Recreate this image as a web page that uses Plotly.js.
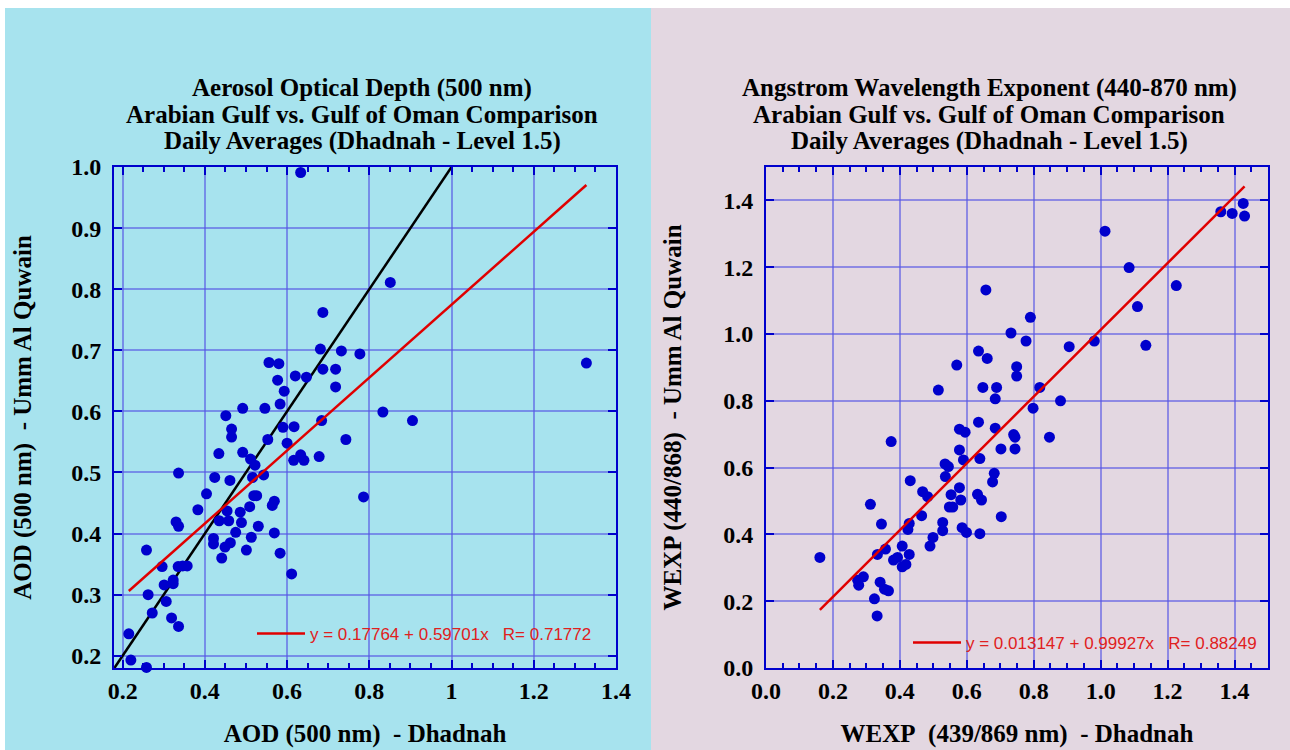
<!DOCTYPE html>
<html>
<head>
<meta charset="utf-8">
<script src="https://cdn.plot.ly/plotly-3.0.1.min.js"></script>
<style>html,body{margin:0;padding:0;background:#fff;}#chart{width:1290px;height:750px;}</style>
</head>
<body>
<div id="chart"></div>
<script>
// ---- Left panel: AOD (500 nm), Dhadnah (x) vs Umm Al Quwain (y)
const aodDhadnah = [
 0.681,0.732,0.777,0.556,0.580,0.687,0.718,0.620,0.647,0.577,
 0.718,0.593,0.583,0.492,0.546,0.833,0.451,0.684,0.590,0.617,
 0.465,0.465,0.553,0.743,0.600,0.434,0.492,0.633,0.678,0.616,
 0.641,0.511,0.522,0.336,0.424,0.516,0.543,0.461,0.404,0.519,
 0.526,0.786,0.569,0.564,0.509,0.383,0.454,0.486,0.435,0.458,
 0.489,0.330,0.336,0.530,0.475,0.569,0.421,0.513,0.421,0.462,
 0.449,0.501,0.258,0.583,0.441,0.296,0.335,0.346,0.357,0.611,
 0.301,0.323,0.323,0.262,0.306,0.272,0.319,0.336,0.215,0.220,
 0.258,0.633,0.687,0.851,1.328,0.905];
const aodUmmAlQuwain = [
 0.702,0.699,0.694,0.680,0.678,0.669,0.669,0.658,0.656,0.651,
 0.640,0.633,0.612,0.605,0.605,0.599,0.593,0.585,0.574,0.575,
 0.571,0.558,0.554,0.554,0.548,0.531,0.533,0.529,0.526,0.520,
 0.520,0.522,0.512,0.499,0.492,0.492,0.496,0.487,0.465,0.462,
 0.462,0.460,0.453,0.446,0.444,0.439,0.437,0.435,0.421,0.421,
 0.418,0.419,0.412,0.412,0.402,0.401,0.392,0.394,0.383,0.385,
 0.378,0.373,0.373,0.368,0.360,0.346,0.346,0.347,0.347,0.334,
 0.316,0.324,0.318,0.300,0.289,0.270,0.262,0.248,0.236,0.193,
 0.181,0.991,0.762,0.811,0.679,0.585];
const aodFitIntercept = 0.17764;
const aodFitSlope = 0.59701;
const aodFitLabel = "y = 0.17764 + 0.59701x\u00a0\u00a0\u00a0R= 0.71772";
const aodOneToOne = [0.18, 1.0];
const aodXTicks = [0.2, 0.4, 0.6, 0.8, 1.0, 1.2, 1.4];
const aodXTickText = ["0.2", "0.4", "0.6", "0.8", "1", "1.2", "1.4"];
const aodYTicks = [0.2, 0.3, 0.4, 0.5, 0.6, 0.7, 0.8, 0.9, 1.0];
const aodYTickText = ["0.2", "0.3", "0.4", "0.5", "0.6", "0.7", "0.8", "0.9", "1.0"];

// ---- Right panel: Angstrom exponent
const wexpDhadnah = [
 0.657,0.732,0.635,0.661,0.570,0.749,0.749,0.515,0.648,0.689,0.685,
 0.635,0.578,0.595,0.685,0.740,0.744,0.374,0.702,0.744,0.578,
 0.590,0.639,0.535,0.545,0.536,0.682,0.677,0.431,0.578,0.468,
 0.483,0.553,0.582,0.632,0.644,0.312,0.548,0.558,0.465,0.703,
 0.345,0.428,0.424,0.528,0.528,0.586,0.599,0.639,0.499,0.490,
 0.407,0.161,0.333,0.357,0.428,0.381,0.393,0.407,0.418,0.291,
 0.274,0.277,0.341,0.354,0.366,0.324,0.332,
 1.426,1.359,1.393,1.430,1.013,1.085,1.226,1.110,0.790,0.777,
 0.981,1.135,0.906,0.818,0.880,0.798,0.847];
const wexpUmmAlQuwain = [
 1.132,1.003,0.949,0.927,0.907,0.902,0.874,0.832,0.840,0.840,0.806,
 0.736,0.715,0.706,0.718,0.699,0.691,0.678,0.656,0.656,0.653,
 0.623,0.627,0.611,0.603,0.573,0.583,0.557,0.561,0.540,0.528,
 0.513,0.519,0.503,0.520,0.503,0.490,0.482,0.482,0.456,0.453,
 0.431,0.433,0.415,0.436,0.411,0.420,0.406,0.402,0.391,0.365,
 0.365,0.331,0.340,0.356,0.340,0.323,0.331,0.303,0.310,0.273,
 0.263,0.248,0.257,0.236,0.231,0.207,0.156,
 1.391,1.366,1.361,1.353,1.308,1.199,1.145,1.082,1.050,0.979,
 0.979,0.966,0.962,0.840,0.800,0.778,0.691];
const wexpFitIntercept = 0.013147;
const wexpFitSlope = 0.99927;
const wexpFitLabel = "y = 0.013147 + 0.99927x\u00a0\u00a0\u00a0R= 0.88249";
const wexpTicks = [0.0, 0.2, 0.4, 0.6, 0.8, 1.0, 1.2, 1.4];
const wexpTickText = ["0.0", "0.2", "0.4", "0.6", "0.8", "1.0", "1.2", "1.4"];

const titleLeft = ["Aerosol Optical Depth (500 nm)", "Arabian Gulf vs. Gulf of Oman Comparison", "Daily Averages (Dhadnah - Level 1.5)"];
const titleRight = ["Angstrom Wavelength Exponent (440-870 nm)", "Arabian Gulf vs. Gulf of Oman Comparison", "Daily Averages (Dhadnah - Level 1.5)"];

// ---- build
const W = 1290, H = 750;
const px = v => v / W;
const py = v => 1 - v / H;
const serif = "Liberation Serif, Times New Roman, serif";
const blue = "#0000cc";
const gridC = "rgba(85,85,228,0.6)";

function fitLine(xs, a, b) {
  const lo = Math.min(...xs), hi = Math.max(...xs);
  return {x: [lo, hi], y: [a + b * lo, a + b * hi]};
}
const aodFit = fitLine(aodDhadnah, aodFitIntercept, aodFitSlope);
const wexpFit = fitLine(wexpDhadnah, wexpFitIntercept, wexpFitSlope);

const traces = [
  {x: aodOneToOne, y: aodOneToOne, mode: "lines", line: {color: "#000", width: 2.5}, showlegend: false, xaxis: "x", yaxis: "y", hoverinfo: "skip"},
  {x: aodDhadnah, y: aodUmmAlQuwain, mode: "markers", marker: {color: blue, size: 11}, cliponaxis: false, showlegend: false, xaxis: "x", yaxis: "y"},
  {x: aodFit.x, y: aodFit.y, mode: "lines", line: {color: "#e00000", width: 2.5}, name: aodFitLabel, legend: "legend", xaxis: "x", yaxis: "y"},
  {x: wexpDhadnah, y: wexpUmmAlQuwain, mode: "markers", marker: {color: blue, size: 11}, cliponaxis: false, showlegend: false, xaxis: "x2", yaxis: "y2"},
  {x: wexpFit.x, y: wexpFit.y, mode: "lines", line: {color: "#e00000", width: 2.5}, name: wexpFitLabel, legend: "legend2", xaxis: "x2", yaxis: "y2"}
];

const tickFont = {family: serif, size: 24, color: "#000", weight: "bold"};
const axTitleFont = {family: serif, size: 25, color: "#000", weight: "bold"};
const yDom = [py(668), py(167)];

function xAxis(dom, range, vals, text, anchor, title) {
  return {domain: dom, range: range, anchor: anchor, tickmode: "array", tickvals: vals, ticktext: text,
    ticks: "inside", ticklen: 8, tickwidth: 2, tickcolor: blue, showline: true, linecolor: blue, linewidth: 2, mirror: "ticks",
    showgrid: true, gridcolor: gridC, gridwidth: 2, zeroline: false, tickfont: tickFont, ticklabelstandoff: 0,
    minor: {tickmode: "linear", tick0: 0, dtick: 0.05, ticks: "inside", ticklen: 5, tickwidth: 1.5, tickcolor: blue, showgrid: false},
    title: {text: title, font: axTitleFont, standoff: 22}, automargin: false, fixedrange: true};
}
function yAxis(dom, range, vals, text, anchor, title, standoff) {
  return {domain: dom, range: range, anchor: anchor, tickmode: "array", tickvals: vals, ticktext: text,
    ticks: "inside", ticklen: 8, tickwidth: 2, tickcolor: blue, showline: true, linecolor: blue, linewidth: 2, mirror: "ticks",
    showgrid: true, gridcolor: gridC, gridwidth: 2, zeroline: false, tickfont: tickFont, ticklabelstandoff: 6,
    title: {text: title, font: axTitleFont, standoff: standoff}, automargin: false, fixedrange: true};
}

const annotations = [];
const lineYs = [88, 115, 141];
const titleFont = {family: serif, size: 25, color: "#000", weight: "bold"};
titleLeft.forEach((t, i) => annotations.push({text: t, xref: "paper", yref: "paper", x: px(362), y: py(lineYs[i]), xanchor: "center", yanchor: "middle", showarrow: false, font: titleFont}));
titleRight.forEach((t, i) => annotations.push({text: t, xref: "paper", yref: "paper", x: px(989), y: py(lineYs[i]), xanchor: "center", yanchor: "middle", showarrow: false, font: titleFont}));

const legendBase = {bgcolor: "rgba(0,0,0,0)", borderwidth: 0, itemwidth: 48, xanchor: "left", yanchor: "middle",
  font: {family: "Liberation Sans, Arial, sans-serif", size: 17, color: "#e02020"}, itemclick: false, itemdoubleclick: false};

const layout = {
  width: W, height: H, margin: {l: 0, r: 0, t: 0, b: 0},
  paper_bgcolor: "#ffffff", plot_bgcolor: "rgba(0,0,0,0)",
  showlegend: true,
  shapes: [
    {type: "rect", xref: "paper", yref: "paper", x0: px(5), x1: px(651), y0: 0, y1: py(8), fillcolor: "#a7e3ee", line: {width: 0}, layer: "below"},
    {type: "rect", xref: "paper", yref: "paper", x0: px(651), x1: 1, y0: 0, y1: py(8), fillcolor: "#e3d7e1", line: {width: 0}, layer: "below"}
  ],
  xaxis: xAxis([px(114), px(616)], [0.179, 1.4], aodXTicks, aodXTickText, "y", "AOD (500 nm)\u00a0\u00a0- Dhadnah"),
  yaxis: yAxis(yDom, [0.18, 1.0], aodYTicks, aodYTickText, "x", "AOD (500 nm)\u00a0\u00a0- Umm Al Quwain", 32),
  xaxis2: xAxis([px(766), px(1268)], [0, 1.5], wexpTicks, wexpTickText, "y2", "WEXP\u00a0\u00a0(439/869 nm)\u00a0\u00a0- Dhadnah"),
  yaxis2: yAxis(yDom, [0, 1.5], wexpTicks, wexpTickText, "x2", "WEXP (440/868)\u00a0\u00a0- Umm Al Quwain", 34),
  legend: Object.assign({}, legendBase, {x: px(252), y: py(634)}),
  legend2: Object.assign({}, legendBase, {x: px(908), y: py(643)}),
  annotations: annotations
};

Plotly.newPlot("chart", traces, layout, {displayModeBar: false, responsive: false});
</script>
</body>
</html>
